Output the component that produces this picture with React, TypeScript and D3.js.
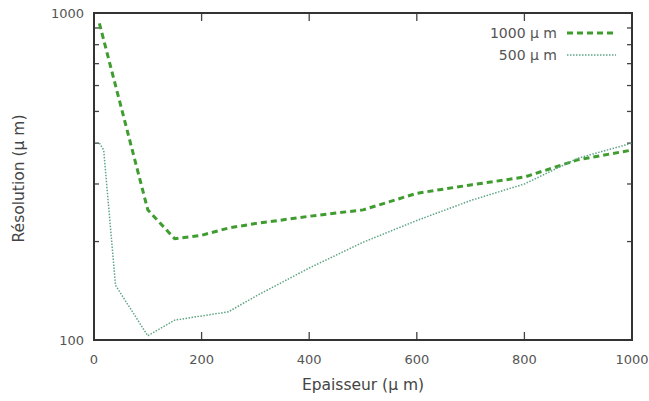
import React from "react";
import * as d3 from "d3";

const thickness = [10, 100, 150, 200, 250, 300, 400, 500, 600, 700, 800, 900, 1000];
const res1000 = [930, 250, 204, 209, 220, 227, 239, 250, 281, 298, 315, 356, 381];

const thickness500 = [10, 18, 40, 100, 150, 250, 300, 400, 500, 600, 700, 800, 900, 1000];
const res500 = [400, 381, 147, 103, 115, 122, 136, 166, 199, 232, 267, 300, 360, 400];

const xTicks = [0, 200, 400, 600, 800, 1000];
const yLabels = [100, 1000];
const yMinor = [200, 300, 400, 500, 600, 700, 800, 900];

const seriesNames = ["1000 µ m", "500 µ m"];

const W = 649, H = 401;
const L = 94, R = 632, T = 13, B = 340;

export default function App() {
  const x = d3.scaleLinear().domain([0, 1000]).range([L, R]);
  const y = d3.scaleLog().domain([100, 1000]).range([B, T]);
  const line = d3.line<[number, number]>().x(d => x(d[0])).y(d => y(d[1]));
  const d1 = line(thickness.map((t, i) => [t, res1000[i]] as [number, number])) || "";
  const d2 = line(thickness500.map((t, i) => [t, res500[i]] as [number, number])) || "";
  const c1 = "#3f9c2f";
  const c2 = "#5fa585";
  const font = "DejaVu Sans, sans-serif";
  const tickColor = "#555";
  return (
    <svg width={W} height={H} style={{ position: "absolute", left: 0, top: 0, background: "#fff" }}>
      <rect x={0} y={0} width={W} height={H} fill="#fff" />
      {xTicks.filter(t => t > 0 && t < 1000).map(t => (
        <g key={"xt" + t}>
          <line x1={x(t)} x2={x(t)} y1={B} y2={B - 8} stroke="#444" strokeWidth={1.3} />
          <line x1={x(t)} x2={x(t)} y1={T} y2={T + 8} stroke="#444" strokeWidth={1.3} />
        </g>
      ))}
      {yMinor.map(v => (
        <g key={"ym" + v}>
          <line x1={L} x2={L + 5} y1={y(v)} y2={y(v)} stroke="#444" strokeWidth={1.3} />
          <line x1={R} x2={R - 5} y1={y(v)} y2={y(v)} stroke="#444" strokeWidth={1.3} />
        </g>
      ))}
      <rect x={L} y={T} width={R - L} height={B - T} fill="none" stroke="#333" strokeWidth={2} />
      {xTicks.map(t => (
        <text key={"xl" + t} x={x(t)} y={B + 24} textAnchor="middle" fontFamily={font} fontSize={13} fill={tickColor}>{t}</text>
      ))}
      {yLabels.map(v => (
        <text key={"yl" + v} x={L - 10} y={y(v)} dy="0.35em" textAnchor="end" fontFamily={font} fontSize={13} fill={tickColor}>{v}</text>
      ))}
      <text x={(L + R) / 2} y={390} textAnchor="middle" fontFamily={font} fontSize={15.5} fill="#444">Epaisseur (µ m)</text>
      <text transform={`translate(24, ${(T + B) / 2 + 2}) rotate(-90)`} textAnchor="middle" fontFamily={font} fontSize={15.5} fill="#444">Résolution (µ m)</text>
      <path d={d1} fill="none" stroke={c1} strokeWidth={3} strokeDasharray="6,4" />
      <path d={d2} fill="none" stroke={c2} strokeWidth={1.5} strokeDasharray="1.5,1.5" />
      <text x={557} y={33} dy="0.35em" textAnchor="end" fontFamily={font} fontSize={14} fill={tickColor}>{seriesNames[0]}</text>
      <line x1={567} x2={616} y1={33} y2={33} stroke={c1} strokeWidth={3} strokeDasharray="6,4" />
      <text x={557} y={55} dy="0.35em" textAnchor="end" fontFamily={font} fontSize={14} fill={tickColor}>{seriesNames[1]}</text>
      <line x1={567} x2={616} y1={55} y2={55} stroke={c2} strokeWidth={1.5} strokeDasharray="1.5,1.5" />
    </svg>
  );
}
